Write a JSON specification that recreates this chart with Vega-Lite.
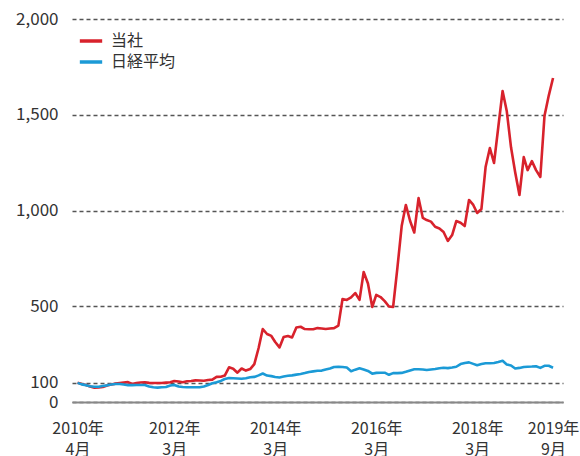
{
  "$schema": "https://vega.github.io/schema/vega-lite/v6.json",
  "width": 491,
  "height": 383,
  "autosize": {"type": "none"},
  "padding": {"left": 72, "top": 19, "right": 17, "bottom": 54},
  "config": {"view": {"stroke": null}, "font": "Noto Sans CJK JP"},
  "data": {"values": [
    {"date":"2010-04-01","当社":100,"日経平均":100},
    {"date":"2010-05-01","当社":94,"日経平均":92},
    {"date":"2010-06-01","当社":89,"日経平均":88},
    {"date":"2010-07-01","当社":81,"日経平均":82},
    {"date":"2010-08-01","当社":75,"日経平均":80},
    {"date":"2010-09-01","当社":76,"日経平均":80},
    {"date":"2010-10-01","当社":78,"日経平均":84},
    {"date":"2010-11-01","当社":86,"日経平均":87},
    {"date":"2010-12-01","当社":91,"日経平均":91},
    {"date":"2011-01-01","当社":96,"日経平均":94},
    {"date":"2011-02-01","当社":99,"日経平均":94},
    {"date":"2011-03-01","当社":102,"日経平均":91},
    {"date":"2011-04-01","当社":104,"日経平均":88},
    {"date":"2011-05-01","当社":94,"日経平均":88},
    {"date":"2011-06-01","当社":99,"日経平均":89},
    {"date":"2011-07-01","当社":102,"日経平均":89},
    {"date":"2011-08-01","当社":103,"日経平均":89},
    {"date":"2011-09-01","当社":100,"日経平均":81},
    {"date":"2011-10-01","当社":99,"日経平均":77},
    {"date":"2011-11-01","当社":99,"日経平均":75},
    {"date":"2011-12-01","当社":99,"日経平均":77},
    {"date":"2012-01-01","当社":101,"日経平均":78},
    {"date":"2012-02-01","当社":103,"日経平均":86},
    {"date":"2012-03-01","当社":110,"日経平均":89},
    {"date":"2012-04-01","当社":107,"日経平均":81},
    {"date":"2012-05-01","当社":103,"日経平均":78},
    {"date":"2012-06-01","当社":108,"日経平均":77},
    {"date":"2012-07-01","当社":110,"日経平均":77},
    {"date":"2012-08-01","当社":113,"日経平均":77},
    {"date":"2012-09-01","当社":112,"日経平均":77},
    {"date":"2012-10-01","当社":111,"日経平均":81},
    {"date":"2012-11-01","当社":115,"日経平均":89},
    {"date":"2012-12-01","当社":117,"日経平均":98},
    {"date":"2013-01-01","当社":131,"日経平均":103},
    {"date":"2013-02-01","当社":132,"日経平均":110},
    {"date":"2013-03-01","当社":138,"日経平均":120},
    {"date":"2013-04-01","当社":181,"日経平均":125},
    {"date":"2013-05-01","当社":174,"日経平均":124},
    {"date":"2013-06-01","当社":153,"日経平均":123},
    {"date":"2013-07-01","当社":175,"日経平均":121},
    {"date":"2013-08-01","当社":164,"日経平均":124},
    {"date":"2013-09-01","当社":172,"日経平均":129},
    {"date":"2013-10-01","当社":198,"日経平均":131},
    {"date":"2013-11-01","当社":282,"日経平均":139},
    {"date":"2013-12-01","当社":381,"日経平均":149},
    {"date":"2014-01-01","当社":355,"日経平均":138},
    {"date":"2014-02-01","当社":345,"日経平均":135},
    {"date":"2014-03-01","当社":313,"日経平均":131},
    {"date":"2014-04-01","当社":285,"日経平均":128},
    {"date":"2014-05-01","当社":339,"日経平均":133},
    {"date":"2014-06-01","当社":345,"日経平均":137},
    {"date":"2014-07-01","当社":337,"日経平均":139},
    {"date":"2014-08-01","当社":389,"日経平均":143},
    {"date":"2014-09-01","当社":393,"日経平均":146},
    {"date":"2014-10-01","当社":381,"日経平均":151},
    {"date":"2014-11-01","当社":380,"日経平均":157},
    {"date":"2014-12-01","当社":380,"日経平均":160},
    {"date":"2015-01-01","当社":386,"日経平均":163},
    {"date":"2015-02-01","当社":384,"日経平均":164},
    {"date":"2015-03-01","当社":381,"日経平均":170},
    {"date":"2015-04-01","当社":384,"日経平均":175},
    {"date":"2015-05-01","当社":386,"日経平均":183},
    {"date":"2015-06-01","当社":399,"日経平均":184},
    {"date":"2015-07-01","当社":538,"日経平均":183},
    {"date":"2015-08-01","当社":533,"日経平均":180},
    {"date":"2015-09-01","当社":546,"日経平均":161},
    {"date":"2015-10-01","当社":569,"日経平均":169},
    {"date":"2015-11-01","当社":533,"日経平均":176},
    {"date":"2015-12-01","当社":679,"日経平均":170},
    {"date":"2016-01-01","当社":619,"日経平均":162},
    {"date":"2016-02-01","当社":496,"日経平均":148},
    {"date":"2016-03-01","当社":559,"日経平均":152},
    {"date":"2016-04-01","当社":548,"日経平均":153},
    {"date":"2016-05-01","当社":527,"日経平均":153},
    {"date":"2016-06-01","当社":499,"日経平均":142},
    {"date":"2016-07-01","当社":496,"日経平均":151},
    {"date":"2016-08-01","当社":700,"日経平均":151},
    {"date":"2016-09-01","当社":919,"日経平均":152},
    {"date":"2016-10-01","当社":1029,"日経平均":158},
    {"date":"2016-11-01","当社":945,"日経平均":165},
    {"date":"2016-12-01","当社":885,"日経平均":171},
    {"date":"2017-01-01","当社":1065,"日経平均":171},
    {"date":"2017-02-01","当社":961,"日経平均":170},
    {"date":"2017-03-01","当社":950,"日経平均":167},
    {"date":"2017-04-01","当社":942,"日経平均":170},
    {"date":"2017-05-01","当社":915,"日経平均":172},
    {"date":"2017-06-01","当社":906,"日経平均":176},
    {"date":"2017-07-01","当社":888,"日経平均":179},
    {"date":"2017-08-01","当社":841,"日経平均":177},
    {"date":"2017-09-01","当社":872,"日経平均":180},
    {"date":"2017-10-01","当社":945,"日経平均":184},
    {"date":"2017-11-01","当社":936,"日経平均":198},
    {"date":"2017-12-01","当社":919,"日経平均":204},
    {"date":"2018-01-01","当社":1055,"日経平均":207},
    {"date":"2018-02-01","当社":1029,"日経平均":199},
    {"date":"2018-03-01","当社":987,"日経平均":192},
    {"date":"2018-04-01","当社":1008,"日経平均":198},
    {"date":"2018-05-01","当社":1227,"日経平均":202},
    {"date":"2018-06-01","当社":1326,"日経平均":202},
    {"date":"2018-07-01","当社":1248,"日経平均":204},
    {"date":"2018-08-01","当社":1436,"日経平均":209},
    {"date":"2018-09-01","当社":1624,"日経平均":215},
    {"date":"2018-10-01","当社":1520,"日経平均":196},
    {"date":"2018-11-01","当社":1330,"日経平均":191},
    {"date":"2018-12-01","当社":1200,"日経平均":175},
    {"date":"2019-01-01","当社":1081,"日経平均":178},
    {"date":"2019-02-01","当社":1279,"日経平均":183},
    {"date":"2019-03-01","当社":1211,"日経平均":184},
    {"date":"2019-04-01","当社":1258,"日経平均":185},
    {"date":"2019-05-01","当社":1211,"日経平均":187},
    {"date":"2019-06-01","当社":1175,"日経平均":178},
    {"date":"2019-07-01","当社":1493,"日経平均":189},
    {"date":"2019-08-01","当社":1600,"日経平均":189},
    {"date":"2019-09-01","当社":1692,"日経平均":179}
  ]},
  "transform": [{"fold": ["当社", "日経平均"], "as": ["series", "value"]}],
  "mark": {"type": "line", "strokeWidth": 2.6, "strokeJoin": "round"},
  "encoding": {
    "x": {
      "field": "date", "type": "temporal",
      "scale": {"type": "utc", "domain": [
        {"year": 2010, "month": 2, "date": 20, "utc": true},
        {"year": 2019, "month": 11, "date": 12, "utc": true}
      ]},
      "axis": {
        "title": null,
        "values": [
          {"year": 2010, "month": 4, "date": 1, "utc": true},
          {"year": 2012, "month": 3, "date": 1, "utc": true},
          {"year": 2014, "month": 3, "date": 1, "utc": true},
          {"year": 2016, "month": 3, "date": 1, "utc": true},
          {"year": 2018, "month": 3, "date": 1, "utc": true},
          {"year": 2019, "month": 9, "date": 1, "utc": true}
        ],
        "labelExpr": "[utcFormat(datum.value, '%Y年'), utcFormat(datum.value, '%-m月')]",
        "grid": false,
        "ticks": false,
        "tickSize": 0,
        "domain": true,
        "domainColor": "#888888",
        "domainWidth": 2,
        "labelPadding": 18,
        "labelLineHeight": 21,
        "labelFontSize": 16,
        "labelColor": "#333333",
        "labelOverlap": false,
        "labelFlush": false,
        "labelBound": false
      }
    },
    "y": {
      "field": "value", "type": "quantitative",
      "scale": {"domain": [0, 2000], "nice": false},
      "axis": {
        "title": null,
        "values": [0, 100, 500, 1000, 1500, 2000],
        "format": ",.0f",
        "ticks": false,
        "tickSize": 0,
        "domain": false,
        "grid": true,
        "gridDash": [4, 3],
        "gridColor": "#555555",
        "gridWidth": 1.3,
        "labelFontSize": 17,
        "labelColor": "#333333",
        "labelPadding": 14
      }
    },
    "color": {
      "field": "series", "type": "nominal",
      "scale": {"domain": ["当社", "日経平均"], "range": ["#d8222c", "#1b9ad6"]},
      "legend": {
        "title": null,
        "orient": "none",
        "legendX": 6,
        "legendY": 9,
        "symbolType": "stroke",
        "symbolSize": 500,
        "symbolStrokeWidth": 3.5,
        "labelFontSize": 16,
        "labelColor": "#333333",
        "labelOffset": 7,
        "rowPadding": 0,
        "padding": 0
      }
    }
  }
}
